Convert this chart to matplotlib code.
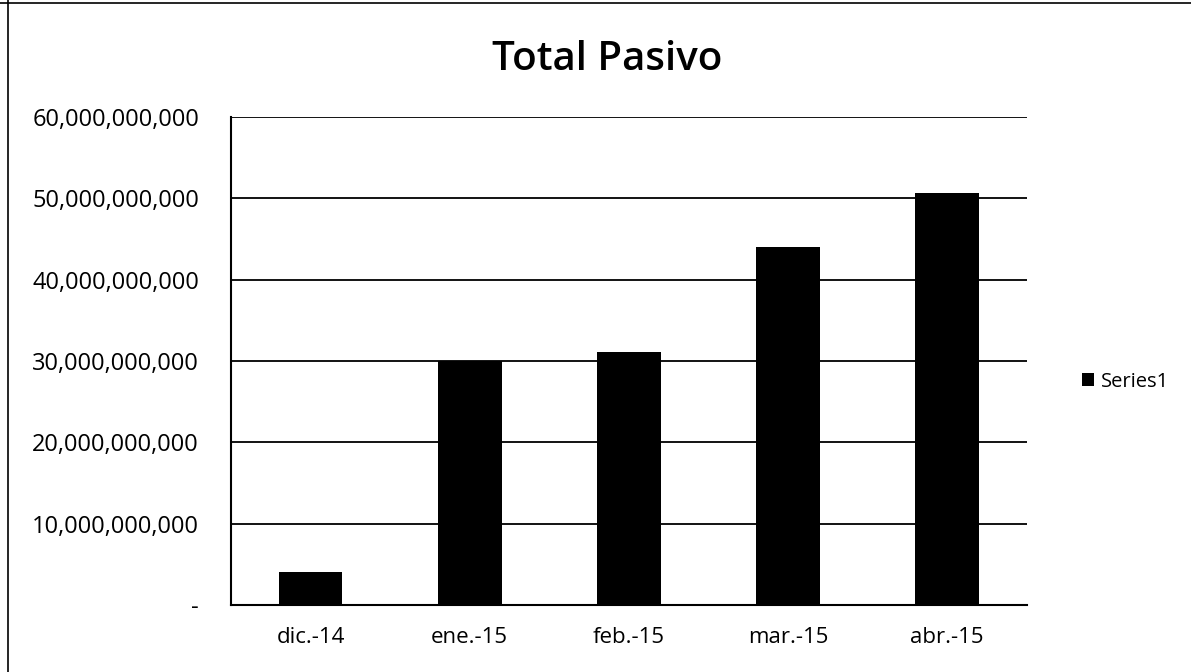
import numpy as np
import matplotlib.pyplot as plt
from matplotlib.ticker import FuncFormatter
from matplotlib.lines import Line2D

# data
months = ['dic.-14', 'ene.-15', 'feb.-15', 'mar.-15', 'abr.-15']
total_pasivo = [4.1e9, 30.0e9, 31.1e9, 44.0e9, 50.7e9]
y_ticks = [0, 10e9, 20e9, 30e9, 40e9, 50e9, 60e9]

plt.rcParams['font.family'] = ['Open Sans', 'DejaVu Sans']

fig = plt.figure(figsize=(11.91, 6.72), dpi=100)
ax = fig.add_axes([0.194, 0.0997, 0.668, 0.726])

x = np.arange(len(months))
ax.bar(x, total_pasivo, width=0.4, color='black', label='Series1', zorder=3)

ax.set_xlim(-0.5, len(months) - 0.5)
ax.set_ylim(0, 60e9)
ax.set_yticks(y_ticks)
ax.yaxis.set_major_formatter(FuncFormatter(lambda v, p: '-' if v == 0 else f'{v:,.0f}'))
ax.set_xticks(x)
ax.set_xticklabels(months)
ax.tick_params(axis='both', length=0, colors='black')
ax.tick_params(axis='y', pad=23, labelsize=17)
ax.tick_params(axis='x', pad=16, labelsize=16)

ax.grid(axis='y', color='black', linewidth=1.3, zorder=1)
for side in ['top', 'right']:
    ax.spines[side].set_visible(False)
ax.spines['left'].set_linewidth(1.5)
ax.spines['bottom'].set_linewidth(1.5)

fig.text(0.51, 0.91, 'Total Pasivo', ha='center', va='center', fontsize=29, fontweight='semibold')

leg = fig.legend(loc='center left', bbox_to_anchor=(0.893, 0.432), frameon=False,
                 fontsize=14.5, handlelength=0.6, handleheight=0.6, handletextpad=0.35)

# scanned chart border: left and top edges
fig.add_artist(Line2D([0.007, 0.007], [0, 1], transform=fig.transFigure, color='black', linewidth=1.2))
fig.add_artist(Line2D([0, 1], [0.996, 0.996], transform=fig.transFigure, color='black', linewidth=1.2))

fig.savefig('out.png', dpi=100)
